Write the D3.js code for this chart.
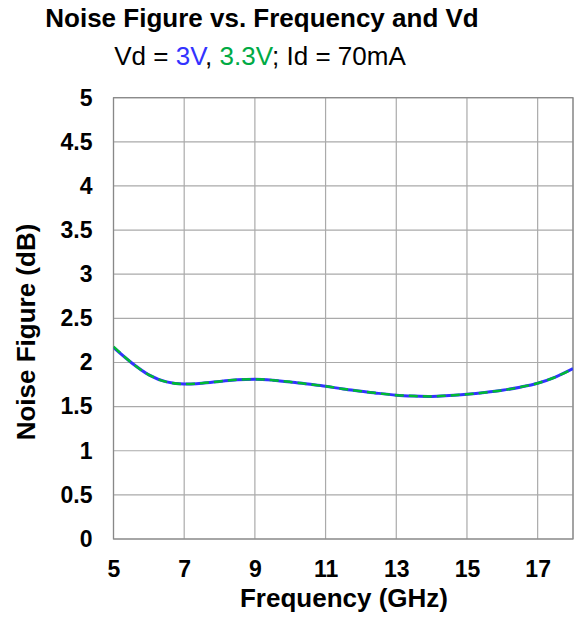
<!DOCTYPE html>
<html><head><meta charset="utf-8">
<script src="https://cdn.jsdelivr.net/npm/d3@7"></script>
<style>body{margin:0;background:#fff}svg{display:block;font-family:"Liberation Sans",Arial,sans-serif}</style>
</head><body><svg id="c" width="579" height="620"></svg>
<script>
const freq = [5,5.5,6,6.5,7,7.5,8,8.5,9,9.5,10,10.5,11,11.5,12,12.5,13,13.5,14,14.5,15,15.5,16,16.5,17,17.5,18];
const nf3v = [2.17,2.0,1.86,1.78,1.755,1.765,1.785,1.805,1.81,1.80,1.78,1.755,1.73,1.70,1.675,1.65,1.63,1.62,1.615,1.625,1.64,1.66,1.685,1.72,1.765,1.835,1.93];
const nf33v = [2.18,2.0,1.86,1.78,1.755,1.765,1.785,1.805,1.81,1.80,1.78,1.755,1.73,1.70,1.675,1.65,1.63,1.62,1.615,1.625,1.64,1.66,1.685,1.72,1.765,1.835,1.93];
const xTicks = [5,7,9,11,13,15,17];
const yTicks = [0,0.5,1,1.5,2,2.5,3,3.5,4,4.5,5];
const xGrid = [5,7,9,11,13,15,17,18];

const svg = d3.select("#c");
const L=113.5, R=573, T=97.7, B=539;
const x = d3.scaleLinear().domain([5,18]).range([L,R]);
const y = d3.scaleLinear().domain([0,5]).range([B,T]);

svg.append("g").selectAll("line").data(yTicks).join("line")
  .attr("x1",L).attr("x2",R).attr("y1",d=>y(d)).attr("y2",d=>y(d))
  .attr("stroke","#aaa").attr("stroke-width",1.2);
svg.append("g").selectAll("line").data(xGrid).join("line")
  .attr("y1",T).attr("y2",B).attr("x1",d=>x(d)).attr("x2",d=>x(d))
  .attr("stroke","#aaa").attr("stroke-width",1.2);
svg.append("rect").attr("x",L).attr("y",T).attr("width",R-L).attr("height",B-T)
  .attr("fill","none").attr("stroke","#888").attr("stroke-width",1.2);

const FF = "Liberation Sans, Arial, sans-serif";
const xa = d3.axisBottom(x).tickValues(xTicks).tickSize(0).tickPadding(22).tickFormat(d3.format("d"));
const gx = svg.append("g").attr("transform",`translate(0,${B})`).call(xa);
gx.select(".domain").remove();
gx.selectAll("text").attr("font-size",23).attr("font-weight","bold").attr("fill","#000").attr("font-family",FF);
const ya = d3.axisLeft(y).tickValues(yTicks).tickSize(0).tickPadding(21).tickFormat(d=>String(d));
const gy = svg.append("g").attr("transform",`translate(${L},0)`).call(ya);
gy.select(".domain").remove();
gy.selectAll("text").attr("font-size",23).attr("font-weight","bold").attr("fill","#000").attr("font-family",FF);

const line = d3.line().x((d,i)=>x(freq[i])).y(d=>y(d)).curve(d3.curveMonotoneX);
svg.append("clipPath").attr("id","cp").append("rect").attr("x",L).attr("y",T).attr("width",R-L).attr("height",B-T);
svg.append("path").datum(nf3v).attr("d",line).attr("fill","none").attr("stroke","#3333ff").attr("stroke-width",3).attr("clip-path","url(#cp)");
svg.append("path").datum(nf33v).attr("d",line).attr("fill","none").attr("stroke","#00bb33").attr("stroke-width",2.5).attr("stroke-dasharray","9,5").attr("clip-path","url(#cp)");

svg.append("text").attr("x",262).attr("y",27).attr("text-anchor","middle").attr("font-size",26).attr("font-weight","bold").text("Noise Figure vs. Frequency and Vd");
const st = svg.append("text").attr("x",260).attr("y",65).attr("text-anchor","middle").attr("font-size",26);
st.append("tspan").text("Vd = ");
st.append("tspan").attr("fill","#3333ff").text("3V");
st.append("tspan").text(", ");
st.append("tspan").attr("fill","#00aa44").text("3.3V");
st.append("tspan").text("; Id = 70mA");

svg.append("text").attr("x",344).attr("y",607).attr("text-anchor","middle").attr("font-size",26).attr("font-weight","bold").text("Frequency (GHz)");
svg.append("text").attr("transform",`translate(35,332) rotate(-90)`).attr("text-anchor","middle").attr("font-size",26).attr("font-weight","bold").text("Noise Figure (dB)");
</script></body></html>
